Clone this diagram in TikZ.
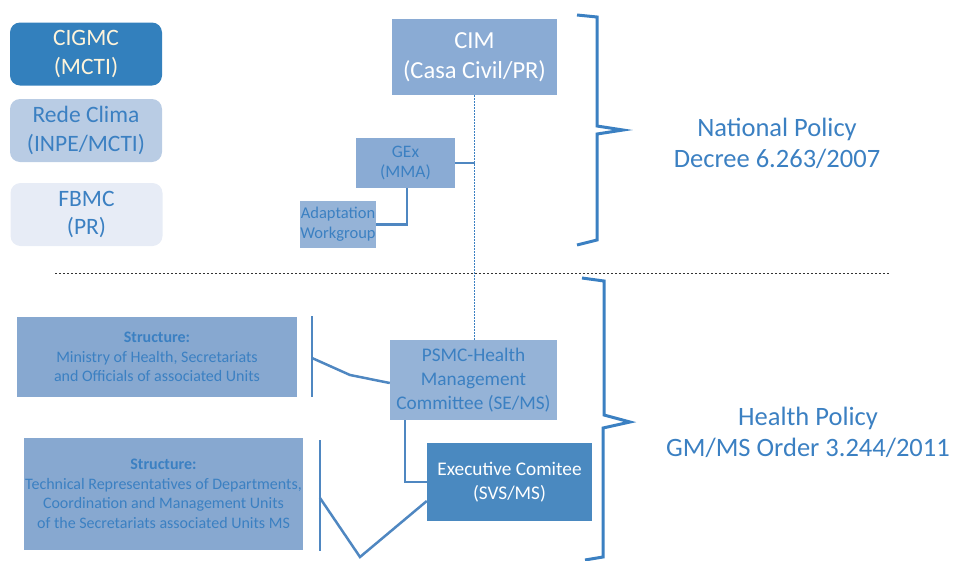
\documentclass[tikz,border=0pt]{standalone}
\usepackage{fontspec}
\setmainfont{Carlito}
\usetikzlibrary{positioning,calc}

\definecolor{txtblue}{HTML}{3B80C2}
\definecolor{lineblue}{HTML}{4F87C1}
\definecolor{darkbox}{HTML}{3380BD}
\definecolor{midbox}{HTML}{8AABD4}
\definecolor{lightbox}{HTML}{B9CCE4}
\definecolor{paleBox}{HTML}{E7ECF6}
\definecolor{psmcbox}{HTML}{95B3D7}
\definecolor{execbox}{HTML}{4A89C0}
\definecolor{structbox}{HTML}{87A8D0}
\definecolor{cream}{HTML}{FFF4DA}

\tikzstyle{bigtext} = [font=\fontsize{23.5}{28.5}\selectfont]
\tikzstyle{cimtext} = [font=\fontsize{24.5}{30}\selectfont]
\tikzstyle{midtext} = [font=\fontsize{19.3}{24}\selectfont]
\tikzstyle{smalltext} = [font=\fontsize{17.5}{20}\selectfont]
\tikzstyle{tinytext} = [font=\fontsize{16}{19.5}\selectfont]
\tikzstyle{policytext} = [font=\fontsize{26.5}{31}\selectfont]
\tikzstyle{box} = [rectangle,align=center,inner sep=0pt]
\tikzstyle{roundbox} = [box,rounded corners=10pt]
\tikzstyle{link} = [draw,lineblue,line width=2.5pt,-]
\tikzstyle{brace} = [draw,txtblue,line width=3pt,-,line join=miter]
\tikzstyle{sepline} = [draw,black!80,line width=1pt,dash pattern=on 2pt off 2pt]
\tikzstyle{dotlink} = [draw,txtblue,line width=1.5pt,dash pattern=on 1.5pt off 1.5pt]

\begin{document}
\begin{tikzpicture}[x=1pt,y=-1pt]
  \useasboundingbox (0,0) rectangle (953,560);

  % left legend
  \foreach \nodename/\first/\second/\x/\y/\fillc/\textc in {
    cigmc/{CIGMC}/{(MCTI)}/86/54/darkbox/cream,
    rede/{Rede Clima}/{(INPE/MCTI)}/86/130.5/lightbox/txtblue,
    fbmc/{FBMC}/{(PR)}/86.5/214.5/paleBox/txtblue}
  {
    \node[roundbox, bigtext, fill=\fillc, text=\textc, minimum width=152pt, minimum height=63pt] (\nodename) at (\x,\y) {\first\\\second};
  }

  % national level
  \node[box, cimtext, fill=midbox, text=white, minimum width=165pt, minimum height=76pt] (cim) at (474.5,57) {CIM\\(Casa Civil/PR)};
  \node[box, smalltext, fill=midbox, text=txtblue, minimum width=99pt, minimum height=50pt] (gex) at (405.5,163) {GEx\\(MMA)};
  \node[box, font=\fontsize{16.5}{20}\selectfont, fill=psmcbox, text=txtblue, minimum width=76pt, minimum height=47pt] (adapt) at (338,224.5) {Adaptation\\Workgroup};

  % health level
  \node[box, midtext, fill=psmcbox, text=txtblue, minimum width=167pt, minimum height=80pt] (psmc) at (473.5,380) {PSMC-Health\\Management\\Committee (SE/MS)};
  \node[box, midtext, fill=execbox, text=white, minimum width=165pt, minimum height=78pt] (exec) at (509.5,482) {Executive Comitee\\(SVS/MS)};
  \node[box, tinytext, fill=structbox, text=txtblue, minimum width=280pt, minimum height=80pt] (struct1) at (157,357) {\textbf{Structure:}\\Ministry of Health, Secretariats\\and Officials of associated Units};
  \node[box, tinytext, fill=structbox, text=txtblue, minimum width=279pt, minimum height=112pt] (struct2) at (163.5,494) {\textbf{Structure:}\\Technical Representatives of Departments,\\Coordination and Management Units\\of the Secretariats associated Units MS};

  %edges or lines
  \path[dotlink] (cim.south) -- (cim.south |- psmc.north);
  \path[link] (gex.east) -- (gex.east -| cim.south);
  \path[link] ([xshift=1.5pt]gex.south) |- (adapt.east);
  \path[link] ([xshift=15pt]psmc.south west) |- (exec.west);

  \coordinate (bar1top) at (312,316);
  \coordinate (bar1bot) at (312,397);
  \coordinate (bar2top) at (320,440);
  \coordinate (bar2bot) at (320,551);
  \path[link] (bar1top) -- (bar1bot);
  \path[link] (bar2top) -- (bar2bot);
  \path[link] (312,358) -- (350,375) -- ([yshift=-3pt]psmc.west);
  \path[link] (320,498) -- (360,557) -- ([yshift=-19pt]exec.west);

  \path[sepline] (55,273) -- (890,273);

  % braces
  \coordinate (tip1) at (623,130);
  \coordinate (tip2) at (630,422);
  \path[brace] (577,15) -- (597,17) -- (597,126) -- (tip1) -- (597,134) -- (597,240) -- (577,245);
  \path[brace] (582,278) -- (604,281) -- (604,415) -- (tip2) -- (603,428) -- (603,557) -- (585,560);

  \node[box, policytext, text=txtblue] (natpol) at (777,143) {National Policy\\Decree 6.263/2007};
  \node[box, policytext, text=txtblue] (healthpol) at (808,432) {Health Policy\\GM/MS Order 3.244/2011};

\end{tikzpicture}
\end{document}
